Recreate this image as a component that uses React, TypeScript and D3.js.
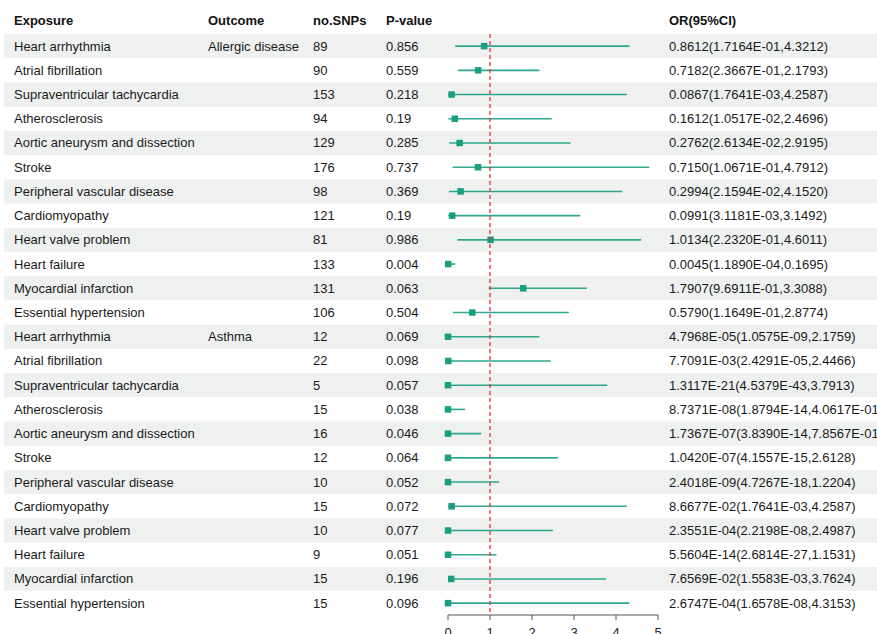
import React from "react";
import * as d3 from "d3";

// Table columns
const exposures = [
  "Heart arrhythmia",
  "Atrial fibrillation",
  "Supraventricular tachycardia",
  "Atherosclerosis",
  "Aortic aneurysm and dissection",
  "Stroke",
  "Peripheral vascular disease",
  "Cardiomyopathy",
  "Heart valve problem",
  "Heart failure",
  "Myocardial infarction",
  "Essential hypertension",
];
const outcomes = ["Allergic disease", "Asthma"];

const nSnps = [
  89, 90, 153, 94, 129, 176, 98, 121, 81, 133, 131, 106,
  12, 22, 5, 15, 16, 12, 10, 15, 10, 9, 15, 15,
];
const pValues = [
  "0.856", "0.559", "0.218", "0.19", "0.285", "0.737", "0.369", "0.19", "0.986", "0.004", "0.063", "0.504",
  "0.069", "0.098", "0.057", "0.038", "0.046", "0.064", "0.052", "0.072", "0.077", "0.051", "0.196", "0.096",
];

// Odds ratios and 95% confidence limits, kept as printed
const orValues = [
  "0.8612", "0.7182", "0.0867", "0.1612", "0.2762", "0.7150", "0.2994", "0.0991", "1.0134", "0.0045", "1.7907", "0.5790",
  "4.7968E-05", "7.7091E-03", "1.3117E-21", "8.7371E-08", "1.7367E-07", "1.0420E-07", "2.4018E-09", "8.6677E-02", "2.3551E-04", "5.5604E-14", "7.6569E-02", "2.6747E-04",
];
const lowerCI = [
  "1.7164E-01", "2.3667E-01", "1.7641E-03", "1.0517E-02", "2.6134E-02", "1.0671E-01", "2.1594E-02", "3.1181E-03", "2.2320E-01", "1.1890E-04", "9.6911E-01", "1.1649E-01",
  "1.0575E-09", "2.4291E-05", "4.5379E-43", "1.8794E-14", "3.8390E-14", "4.1557E-15", "4.7267E-18", "1.7641E-03", "2.2198E-08", "2.6814E-27", "1.5583E-03", "1.6578E-08",
];
const upperCI = [
  "4.3212", "2.1793", "4.2587", "2.4696", "2.9195", "4.7912", "4.1520", "3.1492", "4.6011", "0.1695", "3.3088", "2.8774",
  "2.1759", "2.4466", "3.7913", "4.0617E-01", "7.8567E-01", "2.6128", "1.2204", "4.2587", "2.4987", "1.1531", "3.7624", "4.3153",
];
const axisTicks = [0, 1, 2, 3, 4, 5];

const W = 877;
const H = 634;
const TEAL = "#1a9e82";
const STRIPE = "#eef1ef";
const FONT = "'Liberation Sans', Arial, Helvetica, sans-serif";

export default function App() {
  const rows = outcomes.flatMap((o) =>
    exposures.map((e, i) => ({ exposure: e, outcome: i === 0 ? o : "" }))
  );

  const y = d3
    .scaleBand<number>()
    .domain(d3.range(rows.length))
    .range([34, 34 + 24.22 * rows.length])
    .paddingInner(0)
    .paddingOuter(0);
  const x = d3.scaleLinear().domain([0, 5]).range([448, 658]);

  const cols = { exposure: 14, outcome: 208, snps: 313, p: 386, ci: 669 };
  const axisY = 615;
  const refTop = 34;

  return (
    <svg
      width={W}
      height={H}
      style={{ position: "absolute", left: 0, top: 0, display: "block" }}
      fontFamily={FONT}
      fontSize={13}
    >
      <rect width={W} height={H} fill="#fff" />

      {/* alternate row shading */}
      {rows.map((_, i) =>
        i % 2 === 0 ? (
          <rect key={`s${i}`} x={4} y={y(i)!} width={W - 4} height={y.bandwidth()} fill={STRIPE} />
        ) : null
      )}

      {/* header */}
      <g fontWeight="bold" fill="#111">
        <text x={cols.exposure} y={25}>Exposure</text>
        <text x={cols.outcome} y={25}>Outcome</text>
        <text x={cols.snps} y={25}>no.SNPs</text>
        <text x={cols.p} y={25}>P-value</text>
        <text x={cols.ci} y={25}>OR(95%CI)</text>
      </g>

      {/* table text */}
      <g fill="#1a1a1a">
        {rows.map((r, i) => {
          const cy = y(i)! + y.bandwidth() / 2 + 4.5;
          return (
            <g key={`t${i}`}>
              <text x={cols.exposure} y={cy}>{r.exposure}</text>
              {r.outcome && <text x={cols.outcome} y={cy}>{r.outcome}</text>}
              <text x={cols.snps} y={cy}>{nSnps[i]}</text>
              <text x={cols.p} y={cy}>{pValues[i]}</text>
              <text x={cols.ci} y={cy}>{`${orValues[i]}(${lowerCI[i]},${upperCI[i]})`}</text>
            </g>
          );
        })}
      </g>

      {/* confidence intervals and point estimates */}
      {rows.map((_, i) => {
        const cy = y(i)! + y.bandwidth() / 2;
        const lo = x(Math.max(0, +lowerCI[i]));
        const hi = x(Math.min(5, +upperCI[i]));
        const px = x(+orValues[i]);
        const s = 6.5;
        return (
          <g key={`m${i}`}>
            <line x1={lo} x2={hi} y1={cy} y2={cy} stroke={TEAL} strokeWidth={1.6} opacity={0.9} />
            <rect x={px - s / 2} y={cy - s / 2} width={s} height={s} fill={TEAL} />
          </g>
        );
      })}

      {/* reference line at OR = 1 */}
      <line
        x1={x(1)}
        x2={x(1)}
        y1={refTop}
        y2={axisY}
        stroke="#e8302c"
        strokeWidth={1.3}
        strokeDasharray="4,3"
      />

      {/* x axis */}
      <g stroke="#555" strokeWidth={1}>
        <line x1={x(0)} x2={x(5)} y1={axisY} y2={axisY} />
        {axisTicks.map((t) => (
          <line key={`k${t}`} x1={x(t)} x2={x(t)} y1={axisY} y2={axisY + 5} />
        ))}
      </g>
      <g fill="#222" textAnchor="middle">
        {axisTicks.map((t) => (
          <text key={`l${t}`} x={x(t)} y={637}>{t}</text>
        ))}
      </g>
    </svg>
  );
}
